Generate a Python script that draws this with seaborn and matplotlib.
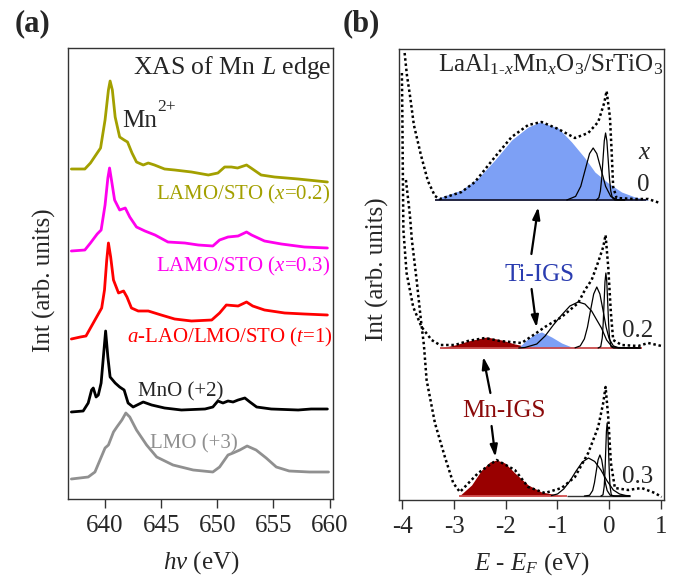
import numpy as np
import matplotlib
matplotlib.use("Agg")
import matplotlib.pyplot as plt
import seaborn as sns

# ---------------- panel (a): Mn L-edge XAS, photon energy (eV) vs intensity ----------------
olive_E = [637.0, 638.2, 638.7, 639.3, 639.6, 640.0, 640.3, 640.45, 640.65, 640.9, 641.3, 641.7,
           642.0, 642.4, 642.8, 643.4, 643.85, 644.4, 645.3, 646.2, 647.7, 649.2, 650.05, 650.65,
           651.25, 651.8, 652.6, 653.0, 653.9, 655.1, 657.2, 659.8]
olive_I = [330, 330, 336, 346, 351, 379, 409, 418, 409, 382, 362, 359, 357, 346, 337, 334, 336,
           334, 330, 329, 327, 324, 326, 332, 332, 331, 334, 331, 324, 322, 320, 317]

magenta_E = [637.0, 638.2, 638.7, 639.3, 639.65, 640.0, 640.25, 640.4, 640.6, 640.85, 641.3, 641.8,
             642.2, 642.8, 643.55, 644.45, 645.6, 647.1, 648.3, 649.6, 650.2, 650.95, 651.85, 652.6,
             653.05, 654.2, 655.7, 657.75, 659.8]
magenta_I = [248, 249, 256, 265, 269, 294, 321, 331, 317, 299, 289, 291, 282, 272, 268, 264, 257,
             256, 254, 253, 259, 262, 263, 267, 264, 258, 255, 252, 251]

red_E = [637.0, 637.8, 638.3, 638.7, 639.25, 639.7, 639.95, 640.15, 640.3, 640.5, 640.75, 641.2,
         641.65, 641.95, 642.35, 642.95, 643.85, 645.0, 646.2, 647.7, 649.5, 650.2, 650.8, 651.85,
         652.6, 653.15, 654.2, 656.0, 657.75, 659.8]
red_I = [160, 162, 163, 171, 182, 191, 209, 239, 256, 242, 219, 206, 208, 202, 191, 188, 188, 184,
         180, 178, 179, 186, 194, 193, 197, 193, 189, 186, 185, 184]

black_E = [637.0, 638.05, 638.5, 638.8, 638.95, 639.2, 639.4, 639.65, 639.85, 640.05, 640.25, 640.45,
           640.9, 641.3, 641.7, 642.05, 642.5, 643.4, 644.15, 645.3, 646.8, 648.9, 649.6, 650.05,
           650.5, 650.95, 651.4, 651.85, 652.45, 652.9, 653.5, 654.8, 657.2, 658.35, 659.8]
black_I = [87, 88, 96, 109, 111, 102, 104, 116, 142, 168, 142, 122, 116, 112, 109, 96, 92, 97, 94,
           91, 89, 90, 92, 98, 96, 98, 97, 99, 101, 97, 92, 90, 89, 90, 90]

grey_E = [637.0, 638.5, 639.1, 639.55, 640.0, 640.3, 640.75, 641.05, 641.5, 641.85, 642.2, 642.8,
          643.7, 644.6, 646.05, 647.85, 649.6, 650.2, 650.95, 651.4, 652.0, 652.65, 653.45, 654.35,
          655.25, 656.4, 658.2, 659.9]
grey_I = [20, 22, 27, 39, 51, 54, 67, 72, 79, 86, 82, 69, 54, 42, 34, 29, 27, 32, 44, 46, 49, 53,
          49, 41, 32, 28, 27, 27]

xas_ticks = [640, 645, 650, 655, 660]

# ---------------- panel (b): valence band, E - E_F (eV) ----------------
# dotted experimental spectra
dot0_E = [-3.957, -3.913, -3.855, -3.778, -3.642, -3.507, -3.371, -3.275, -2.855, -2.598, -2.211,
          -1.888, -1.567, -1.308, -0.986, -0.663, -0.406, -0.213, -0.097, -0.05, 0.014, 0.046,
          0.077, 0.143, 0.497, 0.754, 0.981]
dot0_I = [447, 425, 405, 375, 345, 319, 304, 301, 308, 318, 343, 363, 375, 378, 371, 362, 367, 378,
          397, 409, 383, 350, 313, 302, 301, 301, 297]

dot2_E = [-4.01, -4.0, -3.99, -3.981, -3.919, -3.791, -3.629, -3.435, -3.275, -2.985, -2.733, -2.404,
          -2.114, -1.694, -1.437, -1.244, -0.921, -0.6, -0.47, -0.34, -0.213, -0.116, -0.07, -0.019,
          0.033, 0.077, 0.24, 0.561, 0.754, 1.014]
dot2_I = [427, 380, 320, 270, 227, 193, 173, 160, 155, 155, 159, 162, 159, 157, 166, 173, 183, 197,
          210, 220, 238, 253, 265, 233, 187, 160, 155, 154, 157, 154]

dot3_E = [-3.932, -3.855, -3.817, -3.725, -3.642, -3.584, -3.532, -3.371, -3.178, -3.017, -2.888,
          -2.534, -2.178, -1.824, -1.567, -1.244, -0.921, -0.663, -0.406, -0.213, -0.116, -0.07,
          -0.019, 0.033, 0.11, 0.368, 0.627, 0.884, 1.014]
dot3_I = [320, 285, 260, 220, 180, 155, 120, 77, 43, 17, 8, 27, 40, 30, 13, 7, 12, 23, 47, 73, 97,
          113, 83, 37, 12, 10, 12, 7, 3]

base_levels = [300, 152, 4]  # x = 0, 0.2, 0.3

# x = 0 : Ti-IGS fill and fitted components
ti0_E = [-3.37, -3.307, -2.855, -2.533, -2.211, -1.888, -1.567, -1.34, -0.986, -0.727, -0.47,
         -0.277, -0.019, 0.24, 0.497, 0.754]
ti0_I = [300, 302, 310, 322, 340, 360, 373, 378, 372, 358, 342, 328, 317, 308, 303, 300.5]
c0a_E = [-0.82, -0.65, -0.55, -0.45, -0.38, -0.31, -0.24, -0.17, -0.07, 0.03, 0.15, 0.30]
c0a_I = [300, 303.6, 313.7, 333, 346.4, 352, 346.4, 333, 313.7, 303.6, 300.4, 300]
c0b_E = [-0.25, -0.20, -0.17, -0.145, -0.12, -0.095, -0.07, -0.045, -0.02, 0.005, 0.03, 0.06,
         0.11, 0.30]
c0b_I = [300, 302.3, 309.1, 321.8, 340.6, 359.1, 367, 359.1, 340.6, 321.8, 309.1, 302.3, 300, 300]

# x = 0.2
mn2_E = [-3.275, -2.985, -2.727, -2.37, -2.08, -1.824, -1.5, -1.2]
mn2_I = [152, 155, 159, 163, 160, 156, 152.3, 152]
ti2_E = [-1.76, -1.6, -1.437, -1.308, -1.114, -0.92, -0.727, -0.6]
ti2_I = [152, 160, 166, 168, 163, 157, 153, 152]
c2a_E = [-1.75, -1.63, -1.4, -1.24, -1.08, -0.92, -0.76, -0.6, -0.47, -0.34, -0.24, -0.15, -0.05,
         0.05, 0.15, 0.6]
c2a_I = [152, 152.5, 156, 164, 175, 185, 194, 198, 196, 189, 180, 172, 160, 153.5, 152.5, 152]
c2b_E = [-0.66, -0.56, -0.48, -0.42, -0.36, -0.30, -0.24, -0.18, -0.12, -0.06, 0.0, 0.08, 0.18, 0.6]
c2b_I = [152.2, 154.1, 161.1, 172.9, 189.9, 206, 213, 206, 189.9, 172.9, 161.1, 154.1, 152.2, 152]
c2c_E = [-0.214, -0.164, -0.134, -0.1165, -0.099, -0.0815, -0.064, -0.0465, -0.029, -0.0115, 0.006,
         0.036, 0.086, 0.6]
c2c_I = [152, 153.3, 162.2, 176.4, 197.5, 218.2, 227, 218.2, 197.5, 176.4, 162.2, 153.3, 152, 152]

# x = 0.3
mn3_E = [-2.9, -2.662, -2.468, -2.308, -2.178, -2.017, -1.824, -1.567, -1.308, -0.92]
mn3_I = [4, 15, 30, 38, 40, 37, 27, 15, 8, 4.3]
c3a_E = [-1.12, -1.0, -0.88, -0.76, -0.64, -0.52, -0.40, -0.28, -0.16, -0.04, 0.08, 0.20, 0.32, 0.4]
c3a_I = [4.4, 6, 11, 19, 29, 38, 42, 38.5, 30, 19, 10, 6, 4.5, 4.2]
c3b_E = [-0.48, -0.38, -0.32, -0.285, -0.25, -0.215, -0.18, -0.145, -0.11, -0.075, -0.04, 0.02,
         0.12, 0.4]
c3b_I = [4, 4.7, 9.5, 17.3, 28.9, 40.2, 45, 40.2, 28.9, 17.3, 9.5, 4.7, 4, 4]
c3c_E = [-0.16, -0.12, -0.096, -0.082, -0.068, -0.054, -0.04, -0.026, -0.012, 0.002, 0.016, 0.04,
         0.08, 0.4]
c3c_I = [4, 5.2, 13.9, 27.7, 48.3, 68.4, 77, 68.4, 48.3, 27.7, 13.9, 5.2, 4, 4]

vb_ticks = [-4, -3, -2, -1, 0, 1]

# ---------------- style ----------------
sns.set_style("white")
plt.rcParams["font.family"] = ["Liberation Serif", "DejaVu Serif"]
plt.rcParams["mathtext.fontset"] = "custom"
plt.rcParams["mathtext.rm"] = "Liberation Serif"
plt.rcParams["mathtext.it"] = "Liberation Serif:italic"
plt.rcParams["mathtext.bf"] = "Liberation Serif:bold"

OLIVE, MAGENTA, RED, GREY = "#a3a000", "#ff00ee", "#ff0000", "#909090"
BLUE_FILL, DARKRED = "#7da0f5", "#990000"

fig = plt.figure(figsize=(6.9, 5.76), dpi=100)
ax1 = fig.add_axes([68 / 690, 1 - 499 / 576, 265 / 690, 451 / 576])
ax2 = fig.add_axes([399.3 / 690, 1 - 500 / 576, 264.7 / 690, 451 / 576])


def line(ax, x, y, **kw):
    sns.lineplot(x=x, y=y, ax=ax, sort=False, estimator=None, **kw)


# panel (a)
for E, I, c in [(olive_E, olive_I, OLIVE), (magenta_E, magenta_I, MAGENTA),
                (red_E, red_I, RED), (black_E, black_I, "black"), (grey_E, grey_I, GREY)]:
    line(ax1, E, I, color=c, lw=2.0)

ax1.set_xlim(636.7, 660.3)
ax1.set_ylim(0, 451)
ax1.set_xticks(xas_ticks)
ax1.set_yticks([])
ax1.set_xlabel("$hv$ (eV)", fontsize=18)
ax1.xaxis.set_label_coords(0.502, -0.112)
ax1.set_ylabel("Int (arb. units)", fontsize=18)
ax1.yaxis.set_label_coords(-0.045, 0.486)

tA = ax1.transAxes
ax1.text(0.996, 0.942, "XAS of Mn $L$ edge", transform=tA, ha="right", va="baseline",
         fontsize=18.5)
ax1.text(0.204, 0.825, "Mn", transform=tA, ha="left", va="baseline", fontsize=18)
ax1.text(0.338, 0.86, "2+", transform=tA, ha="left", va="baseline", fontsize=12.5)
ax1.text(0.989, 0.664, "LAMO/STO ($x$=0.2)", transform=tA, ha="right", va="baseline",
         fontsize=15, color=OLIVE)
ax1.text(0.989, 0.5055, "LAMO/STO ($x$=0.3)", transform=tA, ha="right", va="baseline",
         fontsize=15, color=MAGENTA)
ax1.text(1.0, 0.3475, "$a$-LAO/LMO/STO ($t$=1)", transform=tA, ha="right", va="baseline",
         fontsize=15, color=RED)
ax1.text(0.264, 0.227, "MnO (+2)", transform=tA, ha="left", va="baseline", fontsize=15)
ax1.text(0.309, 0.113, "LMO (+3)", transform=tA, ha="left", va="baseline", fontsize=15, color=GREY)

# panel (b)
ax2.fill_between(ti0_E, base_levels[0], ti0_I, color=BLUE_FILL, lw=0)
ax2.fill_between(mn2_E, base_levels[1], mn2_I, color=DARKRED, lw=0)
ax2.fill_between(ti2_E, base_levels[1], ti2_I, color=BLUE_FILL, lw=0)
ax2.fill_between(mn3_E, base_levels[2], mn3_I, color=DARKRED, lw=0)

# baselines of the fits
ax2.hlines(base_levels[0], ti0_E[0], 0.72, color="#1a1a33", lw=1.3)
ax2.hlines(base_levels[1], mn2_E[0], 0.63, color="#c84a4a", lw=1.3)
ax2.hlines(base_levels[2], mn3_E[0], -0.82, color="#d05050", lw=1.3)
ax2.hlines(base_levels[2], -0.82, 0.4, color="#333333", lw=1.0)

for E, I in [(c0a_E, c0a_I), (c0b_E, c0b_I), (c2a_E, c2a_I), (c2b_E, c2b_I), (c2c_E, c2c_I),
             (c3a_E, c3a_I), (c3b_E, c3b_I), (c3c_E, c3c_I)]:
    line(ax2, E, I, color="black", lw=0.9)

for E, I in [(dot0_E, dot0_I), (dot2_E, dot2_I), (dot3_E, dot3_I)]:
    line(ax2, E, I, color="black", lw=1.8, linestyle=(0, (1, 1.1)))

ax2.set_xlim(-4.06, 1.06)
ax2.set_ylim(0, 451)
ax2.set_xticks(vb_ticks)
ax2.set_xticklabels([str(t) for t in vb_ticks])
ax2.set_yticks([])
ax2.set_xlabel("$E$ - $E_F$ (eV)", fontsize=18)
ax2.xaxis.set_label_coords(0.501, -0.112)
ax2.set_ylabel("Int (arb. units)", fontsize=18)
ax2.yaxis.set_label_coords(-0.04, 0.512)

tB = ax2.transAxes
ax2.text(0.998, 0.9497, "LaAl$_{1\u2010x}$Mn$_x$O$_3$/SrTiO$_3$", transform=tB, ha="right",
         va="baseline", fontsize=18)
ax2.text(0.928, 0.756, "$x$", transform=tB, ha="center", va="baseline", fontsize=18)
ax2.text(0.921, 0.686, "0", transform=tB, ha="center", va="baseline", fontsize=18)
ax2.text(0.961, 0.362, "0.2", transform=tB, ha="right", va="baseline", fontsize=18)
ax2.text(0.961, 0.0384, "0.3", transform=tB, ha="right", va="baseline", fontsize=18)
ax2.text(0.528, 0.486, "Ti-IGS", transform=tB, ha="center", va="baseline", fontsize=18,
         color="#2a3cb0")
ax2.text(0.394, 0.1834, "Mn-IGS", transform=tB, ha="center", va="baseline", fontsize=18,
         color="#8b0a0a")

arrow = dict(arrowstyle="-|>,head_length=0.7,head_width=0.22", color="black", lw=1.6,
             shrinkA=0, shrinkB=0)
ax2.annotate("", xy=(-1.373, 293), xytext=(-1.505, 246), arrowprops=arrow)
ax2.annotate("", xy=(-1.404, 172.5), xytext=(-1.501, 211), arrowprops=arrow)
ax2.annotate("", xy=(-2.437, 143.3), xytext=(-2.298, 107), arrowprops=arrow)
ax2.annotate("", xy=(-2.201, 43), xytext=(-2.275, 74), arrowprops=arrow)

for ax in (ax1, ax2):
    for s in ax.spines.values():
        s.set_visible(True)
        s.set_color("#333333")
        s.set_linewidth(1.0)
    ax.tick_params(axis="x", direction="out", length=6.5, width=1.0, pad=5, labelsize=18,
                   bottom=True, color="#333333")

fig.text(15 / 690, 1 - 31 / 576, "(a)", fontsize=22, fontweight="bold", ha="left", va="baseline")
fig.text(343 / 690, 1 - 31 / 576, "(b)", fontsize=22, fontweight="bold", ha="left", va="baseline")

fig.savefig("out.png", dpi=100)
